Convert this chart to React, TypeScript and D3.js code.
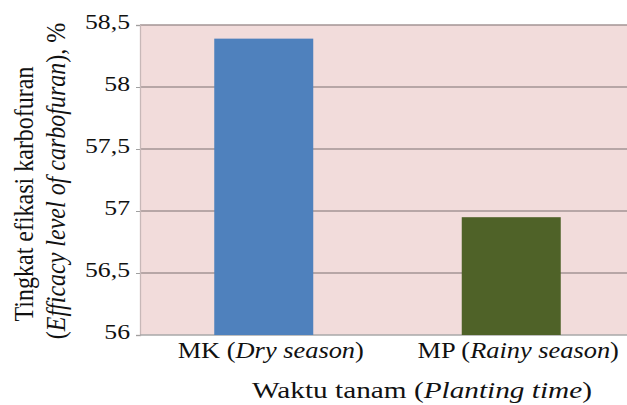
import * as React from 'react';
import {useEffect, useRef} from 'react';
import * as d3 from 'd3';

// categories: [plain prefix, italic part, plain suffix]
const categories = ['MK', 'MP'];
const categoryLabels = [
    ['MK (', 'Dry season', ')'],
    ['MP (', 'Rainy season', ')'],
];
const efficacy = [58.39, 56.95];
const barColors = ['#4f81bd', '#4f6228'];
const yTicks = [56, 56.5, 57, 57.5, 58, 58.5];
const yTickLabels = ['56', '56,5', '57', '57,5', '58', '58,5'];
const yTitle1 = ['Tingkat efikasi karbofuran'];
const yTitle2 = ['(', 'Efficacy level of carbofuran', '), %'];
const xTitle = ['Waktu tanam (', 'Planting time', ')'];

const W = 627;
const H = 405;
const stretch = 1.17;
const font = "'Liberation Serif', 'Times New Roman', Tinos, 'DejaVu Serif', serif";

const addParts = (t, parts) => {
    parts.forEach((p, i) => {
        t.append('tspan')
            .attr('font-style', i === 1 ? 'italic' : 'normal')
            .text(p);
    });
};

const App = () => {
    const ref = useRef(null);

    useEffect(() => {
        const svg = d3.select(ref.current);
        svg.selectAll('*').remove();

        const left = 140, right = 635, top = 25, bottom = 335;

        const x = d3.scaleBand()
            .domain(categories)
            .range([left, right])
            .paddingInner(0.6)
            .paddingOuter(0.3);

        const y = d3.scaleLinear()
            .domain([56, 58.5])
            .range([bottom, top]);

        svg.append('rect')
            .attr('x', left)
            .attr('y', top)
            .attr('width', right - left)
            .attr('height', bottom - top)
            .attr('fill', '#f2dcdb');

        // gridlines
        svg.append('g')
            .selectAll('line')
            .data(yTicks.slice(1))
            .enter()
            .append('line')
            .attr('x1', left)
            .attr('x2', right)
            .attr('y1', d => y(d))
            .attr('y2', d => y(d))
            .attr('stroke', '#a39595')
            .attr('stroke-width', 1.3);

        // y axis
        const yAxis = svg.append('g')
            .attr('transform', `translate(${left},0)`)
            .call(d3.axisLeft(y).tickValues(yTicks).tickSize(4).tickFormat(() => ''));
        yAxis.select('.domain').attr('stroke', '#c8b8b8').attr('stroke-width', 1.3);
        yAxis.selectAll('.tick line').attr('stroke', '#a0a0a0');

        // x axis line
        svg.append('line')
            .attr('x1', left)
            .attr('x2', right)
            .attr('y1', bottom)
            .attr('y2', bottom)
            .attr('stroke', '#a8a8a8')
            .attr('stroke-width', 1.3);

        svg.selectAll('rect.bar')
            .data(efficacy)
            .enter()
            .append('rect')
            .attr('class', 'bar')
            .attr('x', (d, i) => x(categories[i]))
            .attr('y', d => y(d))
            .attr('width', x.bandwidth())
            .attr('height', d => bottom - y(d))
            .attr('fill', (d, i) => barColors[i]);

        const g = svg.append('g').style('font-family', font).attr('fill', '#111');

        // y tick labels
        yTicks.forEach((t, i) => {
            g.append('text')
                .attr('transform', `translate(130,${y(t) + 4}) scale(${stretch},1)`)
                .attr('text-anchor', 'end')
                .attr('font-size', 22)
                .text(yTickLabels[i]);
        });

        // category labels
        categories.forEach((c, i) => {
            const t = g.append('text')
                .attr('transform', `translate(${x(c) + x.bandwidth() / 2 + 7},358) scale(1.1,1)`)
                .attr('text-anchor', 'middle')
                .attr('font-size', 24);
            addParts(t, categoryLabels[i]);
        });

        // x title
        const xt = g.append('text')
            .attr('transform', `translate(422,398) scale(1.22,1)`)
            .attr('text-anchor', 'middle')
            .attr('font-size', 24);
        addParts(xt, xTitle);

        // y title, two lines
        const yt1 = g.append('text')
            .attr('transform', `translate(33,194) scale(${stretch},1) rotate(-90)`)
            .attr('text-anchor', 'middle')
            .attr('font-size', 24);
        addParts(yt1, yTitle1);

        const yt2 = g.append('text')
            .attr('transform', `translate(65,181) scale(${stretch},1) rotate(-90)`)
            .attr('text-anchor', 'middle')
            .attr('font-size', 24);
        addParts(yt2, yTitle2);
    }, []);

    return (
        <svg ref={ref} width={W} height={H}
             style={{position: 'absolute', left: 0, top: 0, background: '#fff'}}></svg>
    );
};

export default App;
